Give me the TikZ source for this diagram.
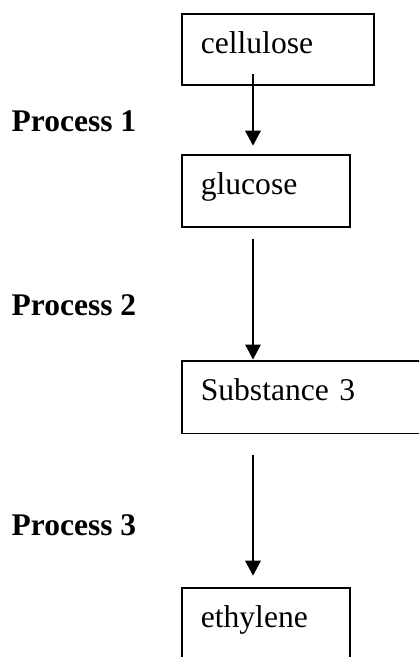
\documentclass[tikz,border=0pt]{standalone}
\usepackage{fontspec}
\setmainfont{Liberation Serif}
\usetikzlibrary{arrows.meta}
\tikzset{
  box/.style={draw, line width=1.8bp, anchor=north west, inner xsep=19.2bp, inner ysep=0pt,
    align=left, text height=40bp, font=\fontsize{31.6bp}{38bp}\selectfont},
  proc/.style={anchor=base west, inner sep=0pt, font=\fontsize{31.5bp}{38bp}\selectfont\bfseries},
  flow/.style={line width=1.6bp, -{Triangle[length=15bp,width=15.5bp]}}
}
\begin{document}
\begin{tikzpicture}[x=1bp,y=-1bp]
\useasboundingbox (0,0) rectangle (419,657);
\clip (0,0) rectangle (419,657);
\node[box, text width=153.6bp, text depth=31bp] (cell) at (180.7,13) {cellulose};
\node[box, text width=129.9bp, text depth=31.7bp] (gluc) at (180.7,154) {glucose};
\node[box, text width=220.9bp, text depth=32.5bp] (subs) at (180.7,360) {Substance 3};
\node[box, text width=129.9bp, text depth=53bp] (ethy) at (180.7,587) {ethylene};
\node[proc] (p1) at (11.5,131.7) {Process 1};
\node[proc] (p2) at (11.5,315) {Process 2};
\node[proc] (p3) at (11.5,535.7) {Process 3};
\coordinate (s1) at (253,74);
\coordinate (e1) at (253,145.7);
\coordinate (s2) at (253,239);
\coordinate (e2) at (253,359.5);
\coordinate (s3) at (253,455);
\coordinate (e3) at (253,575.7);
\draw[flow] (s1) -- (e1);
\draw[flow] (s2) -- (e2);
\draw[flow] (s3) -- (e3);
\end{tikzpicture}
\end{document}
